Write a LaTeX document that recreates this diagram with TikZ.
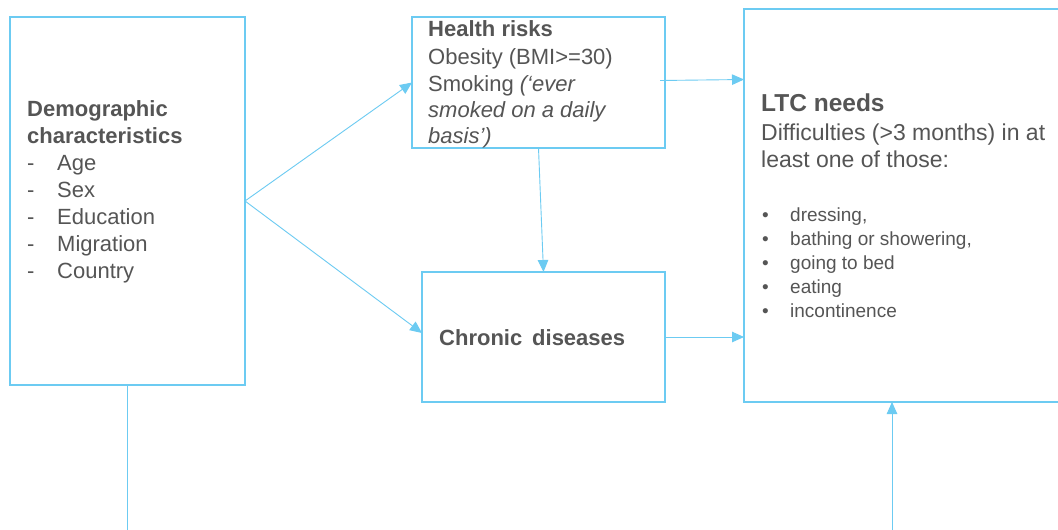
\documentclass[tikz,border=0pt]{standalone}
\usepackage{fontspec}
\setmainfont{Liberation Sans}
\usetikzlibrary{arrows.meta}
\definecolor{lb}{HTML}{6CCBF2}
\definecolor{tx}{HTML}{555555}
\begin{document}
\begin{tikzpicture}[x=1pt,y=-1pt,
  box/.style={draw=lb, line width=2pt, inner sep=0pt, outer sep=0pt},
  conn/.style={draw=lb, line width=0.9pt, -{Triangle[length=12pt,width=10.5pt]}},
  plain/.style={draw=lb, line width=0.9pt},
  txt/.style={anchor=base west, inner sep=0pt, text=tx},
  big/.style={font=\fontsize{22}{26}\selectfont},
  ltcb/.style={font=\fontsize{24.5}{28}\selectfont\bfseries},
  ltcm/.style={font=\fontsize{23}{27}\selectfont},
  small/.style={font=\fontsize{19}{23}\selectfont}]
\path[use as bounding box] (0,0) rectangle (1058,530);
\clip (0,0) rectangle (1058,530);
\fill[white] (0,0) rectangle (1058,530);
% boxes
\node[box, minimum width=235pt, minimum height=368pt] (demo) at (127.5,201) {};
\node[box, minimum width=253pt, minimum height=131pt] (health) at (538.5,82.5) {};
\node[box, minimum width=243pt, minimum height=130pt] (chronic) at (543.5,337) {};
\node[box, minimum width=336pt, minimum height=393pt] (ltc) at (912,205.5) {};
% demographic text
\node[txt,big,font=\fontsize{22}{26}\selectfont\bfseries] (d1) at (27,116) {Demographic};
\node[txt,big,font=\fontsize{22}{26}\selectfont\bfseries] (d2) at (27,143) {characteristics};
\foreach \t [count=\i] in {Age,Sex,Education,Migration,Country}{
  \node[txt,big] (dd\i) at (27,143+27*\i) {-};
  \node[txt,big] (di\i) at (57,143+27*\i) {\t};
}
% health risks text
\node[txt,font=\fontsize{22}{26}\selectfont\bfseries] (h1) at (428,36) {Health risks};
\node[txt,big] (h2) at (428,64) {Obesity (BMI>=30)};
\node[txt,big] (h3) at (428,91) {Smoking \textit{(‘ever}};
\node[txt,big] (h4) at (428,117) {\textit{smoked on a daily}};
\node[txt,big] (h5) at (428,143) {\textit{basis’)}};
% chronic
\node[txt,font=\fontsize{22}{26}\selectfont\bfseries] (c1) at (439,345) {Chronic\hspace{0.45em}diseases};
% LTC
\node[txt,ltcb] (l1) at (761,111) {LTC needs};
\node[txt,ltcm] (l2) at (761,140) {Difficulties (>3 months) in at};
\node[txt,ltcm] (l3) at (761,167) {least one of those:};
\foreach \t [count=\i] in {{dressing,},{bathing or showering,},{going to bed},{eating},{incontinence}}{
  \node[txt,small] (lb\i) at (762,197+24*\i) {•};
  \node[txt,small] (lt\i) at (790,197+24*\i) {\t};
}
% connectors
\coordinate (b1) at (127.5,530);
\coordinate (b2) at (892,530);
\draw[conn] (demo.east) -- (health.west);
\draw[conn] (demo.east) -- ([yshift=4pt]chronic.west);
\draw[conn] (health.south) -- (chronic.north);
\draw[conn] ([xshift=-5pt,yshift=2pt]health.east) -- ([yshift=3pt]health.east -| ltc.west);
\draw[conn] (chronic.east) -- (chronic.east -| ltc.west);
\draw[plain] (demo.south) -- (b1);
\draw[conn] (b2) -- (b2 |- ltc.south);
\end{tikzpicture}
\end{document}
